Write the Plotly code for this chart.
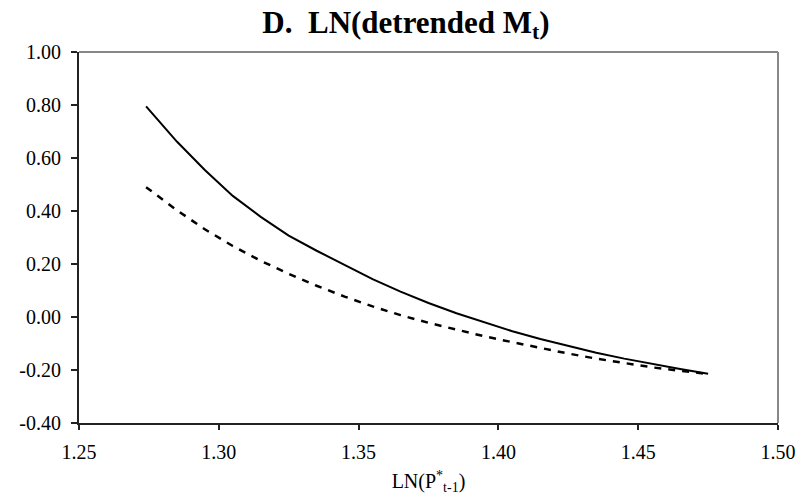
import plotly.graph_objects as go

# x values: LN(P*_{t-1})
x_vals = [1.274, 1.285, 1.295, 1.305, 1.315, 1.325, 1.335, 1.345, 1.355, 1.365,
          1.375, 1.385, 1.395, 1.405, 1.415, 1.425, 1.435, 1.445, 1.455, 1.465, 1.475]
solid_vals = [0.795, 0.662, 0.555, 0.457, 0.378, 0.307, 0.250, 0.195, 0.143, 0.096,
              0.053, 0.014, -0.021, -0.054, -0.083, -0.110, -0.135, -0.157, -0.177, -0.196, -0.214]
dashed_vals = [0.490, 0.403, 0.331, 0.268, 0.212, 0.163, 0.118, 0.077, 0.040, 0.007,
               -0.022, -0.048, -0.073, -0.095, -0.117, -0.138, -0.157, -0.174, -0.190, -0.203, -0.215]

y_tick_vals = [-0.4, -0.2, 0.0, 0.2, 0.4, 0.6, 0.8, 1.0]
y_tick_text = ["-0.40", "-0.20", "0.00", "0.20", "0.40", "0.60", "0.80", "1.00"]
x_tick_vals = [1.25, 1.30, 1.35, 1.40, 1.45, 1.50]
x_tick_text = ["1.25", "1.30", "1.35", "1.40", "1.45", "1.50"]

FONT = "'Liberation Serif', 'Times New Roman', serif"

fig = go.Figure()
fig.add_trace(go.Scatter(x=x_vals, y=solid_vals, mode="lines",
                         line=dict(color="black", width=2), showlegend=False))
fig.add_trace(go.Scatter(x=x_vals, y=dashed_vals, mode="lines",
                         line=dict(color="black", width=2.5, dash="7px,7px"), showlegend=False))

fig.update_layout(
    width=812, height=502,
    margin=dict(l=79, r=34, t=52, b=79, autoexpand=False),
    paper_bgcolor="white", plot_bgcolor="white",
    font=dict(family=FONT, color="black", size=20),
    title=dict(text="<b>D.&nbsp; LN(detrended M<sub>t</sub>)</b>",
               x=0.5, xanchor="center", xref="container",
               y=0.935, yanchor="bottom",
               font=dict(family=FONT, size=31, color="black", weight="bold")),
    xaxis=dict(range=[1.25, 1.50], tickvals=x_tick_vals, ticktext=x_tick_text,
               automargin=False,
               showgrid=False, zeroline=False, showline=True, linecolor="#222", linewidth=2,
               ticks="outside", ticklen=5, tickcolor="#222", tickwidth=1.5,
               tickfont=dict(size=20, family=FONT, color="black"), ticklabelstandoff=5,
               title=dict(text="LN(P<sup>*</sup><sub>t-1</sub>)",
                          font=dict(size=20, family=FONT, color="black"), standoff=12)),
    yaxis=dict(range=[-0.4, 1.0], tickvals=y_tick_vals, ticktext=y_tick_text,
               automargin=False,
               showgrid=False, zeroline=False, showline=True, linecolor="#222", linewidth=2,
               ticks="outside", ticklen=6, tickcolor="#222", tickwidth=1.5,
               tickfont=dict(size=20, family=FONT, color="black"), ticklabelstandoff=6),
    shapes=[
        dict(type="line", xref="paper", yref="paper", x0=0, x1=1, y0=1, y1=1,
             line=dict(color="#888", width=2)),
        dict(type="line", xref="paper", yref="paper", x0=1, x1=1, y0=0, y1=1,
             line=dict(color="#888", width=2)),
    ],
)

fig.write_html("out.html")
